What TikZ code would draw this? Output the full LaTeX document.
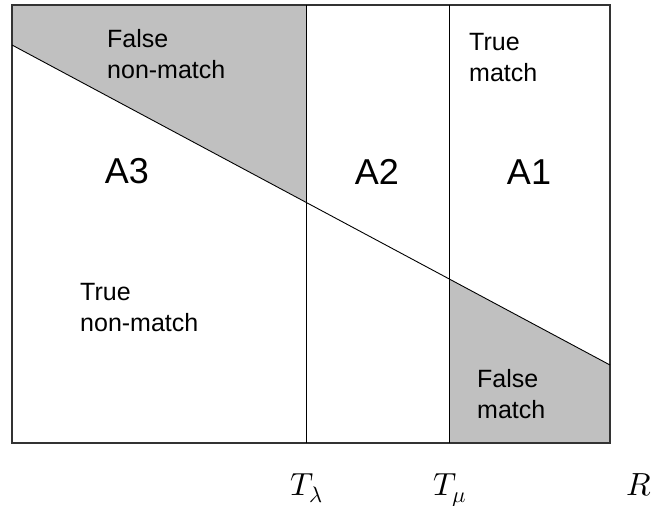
\documentclass[tikz,border=0pt]{standalone}
\usepackage{fontspec}
\setmainfont{Liberation Sans}
\usepackage{unicode-math}
\setmathfont{Latin Modern Math}
\definecolor{errgray}{RGB}{192,192,192}
\tikzset{
  region/.style={font=\fontsize{25}{31}\selectfont, align=left, anchor=base west, inner sep=0pt},
  area/.style={font=\fontsize{36}{40}\selectfont, anchor=base, inner sep=0pt},
  thr/.style={font=\fontsize{32}{36}\selectfont, anchor=base, inner sep=0pt}
}
\begin{document}
\begin{tikzpicture}[x=1pt,y=-1pt]
    \useasboundingbox (0,0) rectangle (656,506);
    % Corners and cut points
    \coordinate (tl) at (12,5);
    \coordinate (tr) at (610,5);
    \coordinate (bl) at (12,443);
    \coordinate (br) at (610,443);
    \coordinate (lt) at (306,5);
    \coordinate (lb) at (306,443);
    \coordinate (mt) at (449,5);
    \coordinate (mb) at (449,443);
    \coordinate (dl) at (12,45);
    \coordinate (dr) at (610,365);
    \coordinate (dx) at (306,202);
    \coordinate (dy) at (449,279);
    % Shaded error regions
    \fill[errgray] (tl) -- (lt) -- (dx) -- (dl) -- cycle;
    \fill[errgray] (dy) -- (dr) -- (br) -- (mb) -- cycle;
    % Frame, thresholds and decision line
    \draw[line width=1.3pt, black!80] (tl) rectangle (br);
    \draw[line width=1pt] (lt) -- (lb);
    \draw[line width=1pt] (mt) -- (mb);
    \draw[line width=0.9pt] (dl) -- (dr);
    % Labels
    \node[region] (fnm) at (107,78) {False\\non-match};
    \node[region] (tm) at (469,81) {True\\match};
    \node[region] (tnm) at (80,331) {True\\non-match};
    \node[region] (fm) at (477,418) {False\\match};
    \node[area] (a3) at (127,183) {A3};
    \node[area] (a2) at (377,184) {A2};
    \node[area] (a1) at (529,184) {A1};
    % Axis marks
    \node[thr] (tlam) at (307,495) {$T_\lambda$};
    \node[thr] (tmu) at (450,495) {$T_\mu$};
    \node[thr] (r) at (639,495) {$R$};
\end{tikzpicture}
\end{document}
